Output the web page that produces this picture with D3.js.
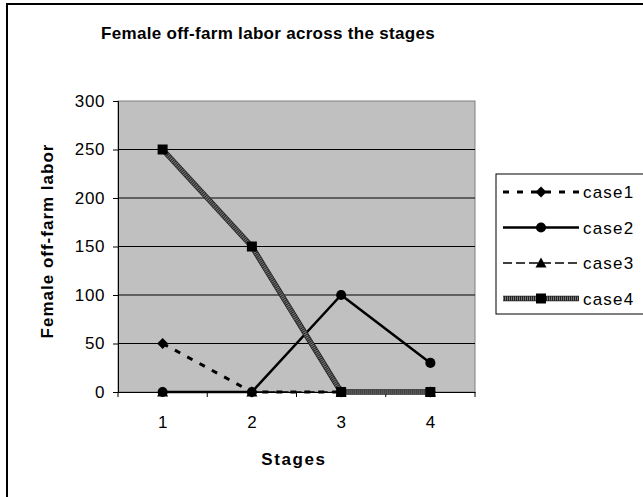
<!DOCTYPE html>
<html><head><meta charset="utf-8">
<script src="https://cdn.jsdelivr.net/npm/d3@7"></script>
<style>
body{margin:0;background:#fff;}
svg{display:block;font-family:Arial,"Liberation Sans",sans-serif;}
</style></head>
<body>
<script>
const stages = ["1","2","3","4"];
const yTicks = [0,50,100,150,200,250,300];
const case1 = [50,0,0,0];
const case2 = [0,0,100,30];
const case3 = [0,0,0,0];
const case4 = [250,150,0,0];
const seriesNames = ["case1","case2","case3","case4"];
const seriesValues = [case1,case2,case3,case4];

const W=643,H=497;
const FONT="Arial,'Liberation Sans',sans-serif";
const svg=d3.select("body").append("svg").attr("width",W).attr("height",H);

// outer frame
svg.append("rect").attr("x",7).attr("y",4).attr("width",W+10).attr("height",H+10)
  .attr("fill","#fff").attr("stroke","#000").attr("stroke-width",2);

const L=118,R=475,T=101,B=392;
const x=d3.scaleBand().domain(stages).range([L,R]);
const y=d3.scaleLinear().domain([0,300]).range([B,T]);

svg.append("rect").attr("x",L).attr("y",T).attr("width",R-L).attr("height",B-T)
  .attr("fill","#c0c0c0").attr("stroke","#808080").attr("stroke-width",1);

// gridlines
svg.append("g").selectAll("line").data(yTicks.filter(d=>d>0&&d<300)).join("line")
  .attr("x1",L).attr("x2",R).attr("y1",d=>y(d)).attr("y2",d=>y(d))
  .attr("stroke","#000").attr("stroke-width",1);

// y axis
const ya=svg.append("g").attr("transform",`translate(${L},0)`)
  .call(d3.axisLeft(y).tickValues(yTicks).tickSize(5).tickPadding(8));
ya.select(".domain").attr("stroke","#000");
ya.selectAll("text").attr("font-size",17).attr("letter-spacing","0.6").attr("fill","#000").attr("font-family",FONT);

// x axis
const xa=svg.append("g").attr("transform",`translate(0,${B})`)
  .call(d3.axisBottom(x).tickSize(0).tickPadding(24));
xa.select(".domain").attr("stroke","#000");
xa.selectAll("text").attr("font-size",17).attr("fill","#000").attr("font-family",FONT);
// boundary ticks
const bounds=stages.map(s=>x(s)).concat([R]);
svg.append("g").selectAll("line").data(bounds).join("line")
  .attr("x1",d=>d).attr("x2",d=>d).attr("y1",B).attr("y2",B+5).attr("stroke","#000");

const cx=s=>x(s)+x.bandwidth()/2;

const styles=[
  {w:3,dash:"6,8",col:"#000",marker:"diamond"},
  {w:2.5,dash:null,col:"#000",marker:"circle"},
  {w:1.5,dash:"9,4",col:"#000",marker:"triangle"},
  {w:5.5,dash:null,col:"#222",marker:"square",hatch:true}
];
const markerPath={
  diamond:"M0,-5.5L5.5,0L0,5.5L-5.5,0Z",
  circle:d3.symbol(d3.symbolCircle,80)(),
  triangle:"M0,-5.5L5.5,4.5L-5.5,4.5Z",
  square:"M-5,-5H5V5H-5Z"
};

function drawLine(g,pts,st){
  const line=d3.line();
  const p=g.append("path").attr("d",line(pts)).attr("fill","none")
    .attr("stroke",st.col).attr("stroke-width",st.w).attr("stroke-linejoin","round");
  if(st.dash) p.attr("stroke-dasharray",st.dash);
  if(st.hatch){
    g.append("path").attr("d",line(pts)).attr("fill","none")
      .attr("stroke","#7a7a7a").attr("stroke-width",st.w-1.5).attr("stroke-dasharray","1,1");
  }
}
function drawMarker(g,px,py,st){
  g.append("path").attr("d",markerPath[st.marker])
    .attr("transform",`translate(${px},${py})`).attr("fill","#000");
}

const plot=svg.append("g");
seriesValues.forEach((vals,i)=>{
  const st=styles[i];
  const pts=vals.map((v,j)=>[cx(stages[j]),y(v)]);
  const g=plot.append("g");
  drawLine(g,pts,st);
  pts.forEach(p=>drawMarker(g,p[0],p[1],st));
});

// title
svg.append("text").attr("x",268).attr("y",39).attr("text-anchor","middle")
  .attr("font-size",17).attr("font-weight","bold").attr("letter-spacing","0.3")
  .text("Female off-farm labor across the stages");
svg.append("text").attr("x",294).attr("y",465).attr("text-anchor","middle")
  .attr("font-size",17).attr("font-weight","bold").attr("letter-spacing","1.6").text("Stages");
svg.append("text").attr("transform",`translate(53,${241}) rotate(-90)`).attr("text-anchor","middle")
  .attr("font-size",17).attr("font-weight","bold").attr("letter-spacing","1").text("Female off-farm labor");

// legend
const lg=svg.append("g");
lg.append("rect").attr("x",496).attr("y",174).attr("width",160).attr("height",140)
  .attr("fill","#fff").attr("stroke","#000").attr("stroke-width",1);
seriesNames.forEach((n,i)=>{
  const ly=192+i*35.5;
  const g=lg.append("g");
  drawLine(g,[[503,ly],[579,ly]],styles[i]);
  drawMarker(g,541,ly,styles[i]);
  g.append("text").attr("x",583).attr("y",ly+6).attr("font-size",17).attr("letter-spacing","1.2").text(n);
});
</script>
</body></html>
